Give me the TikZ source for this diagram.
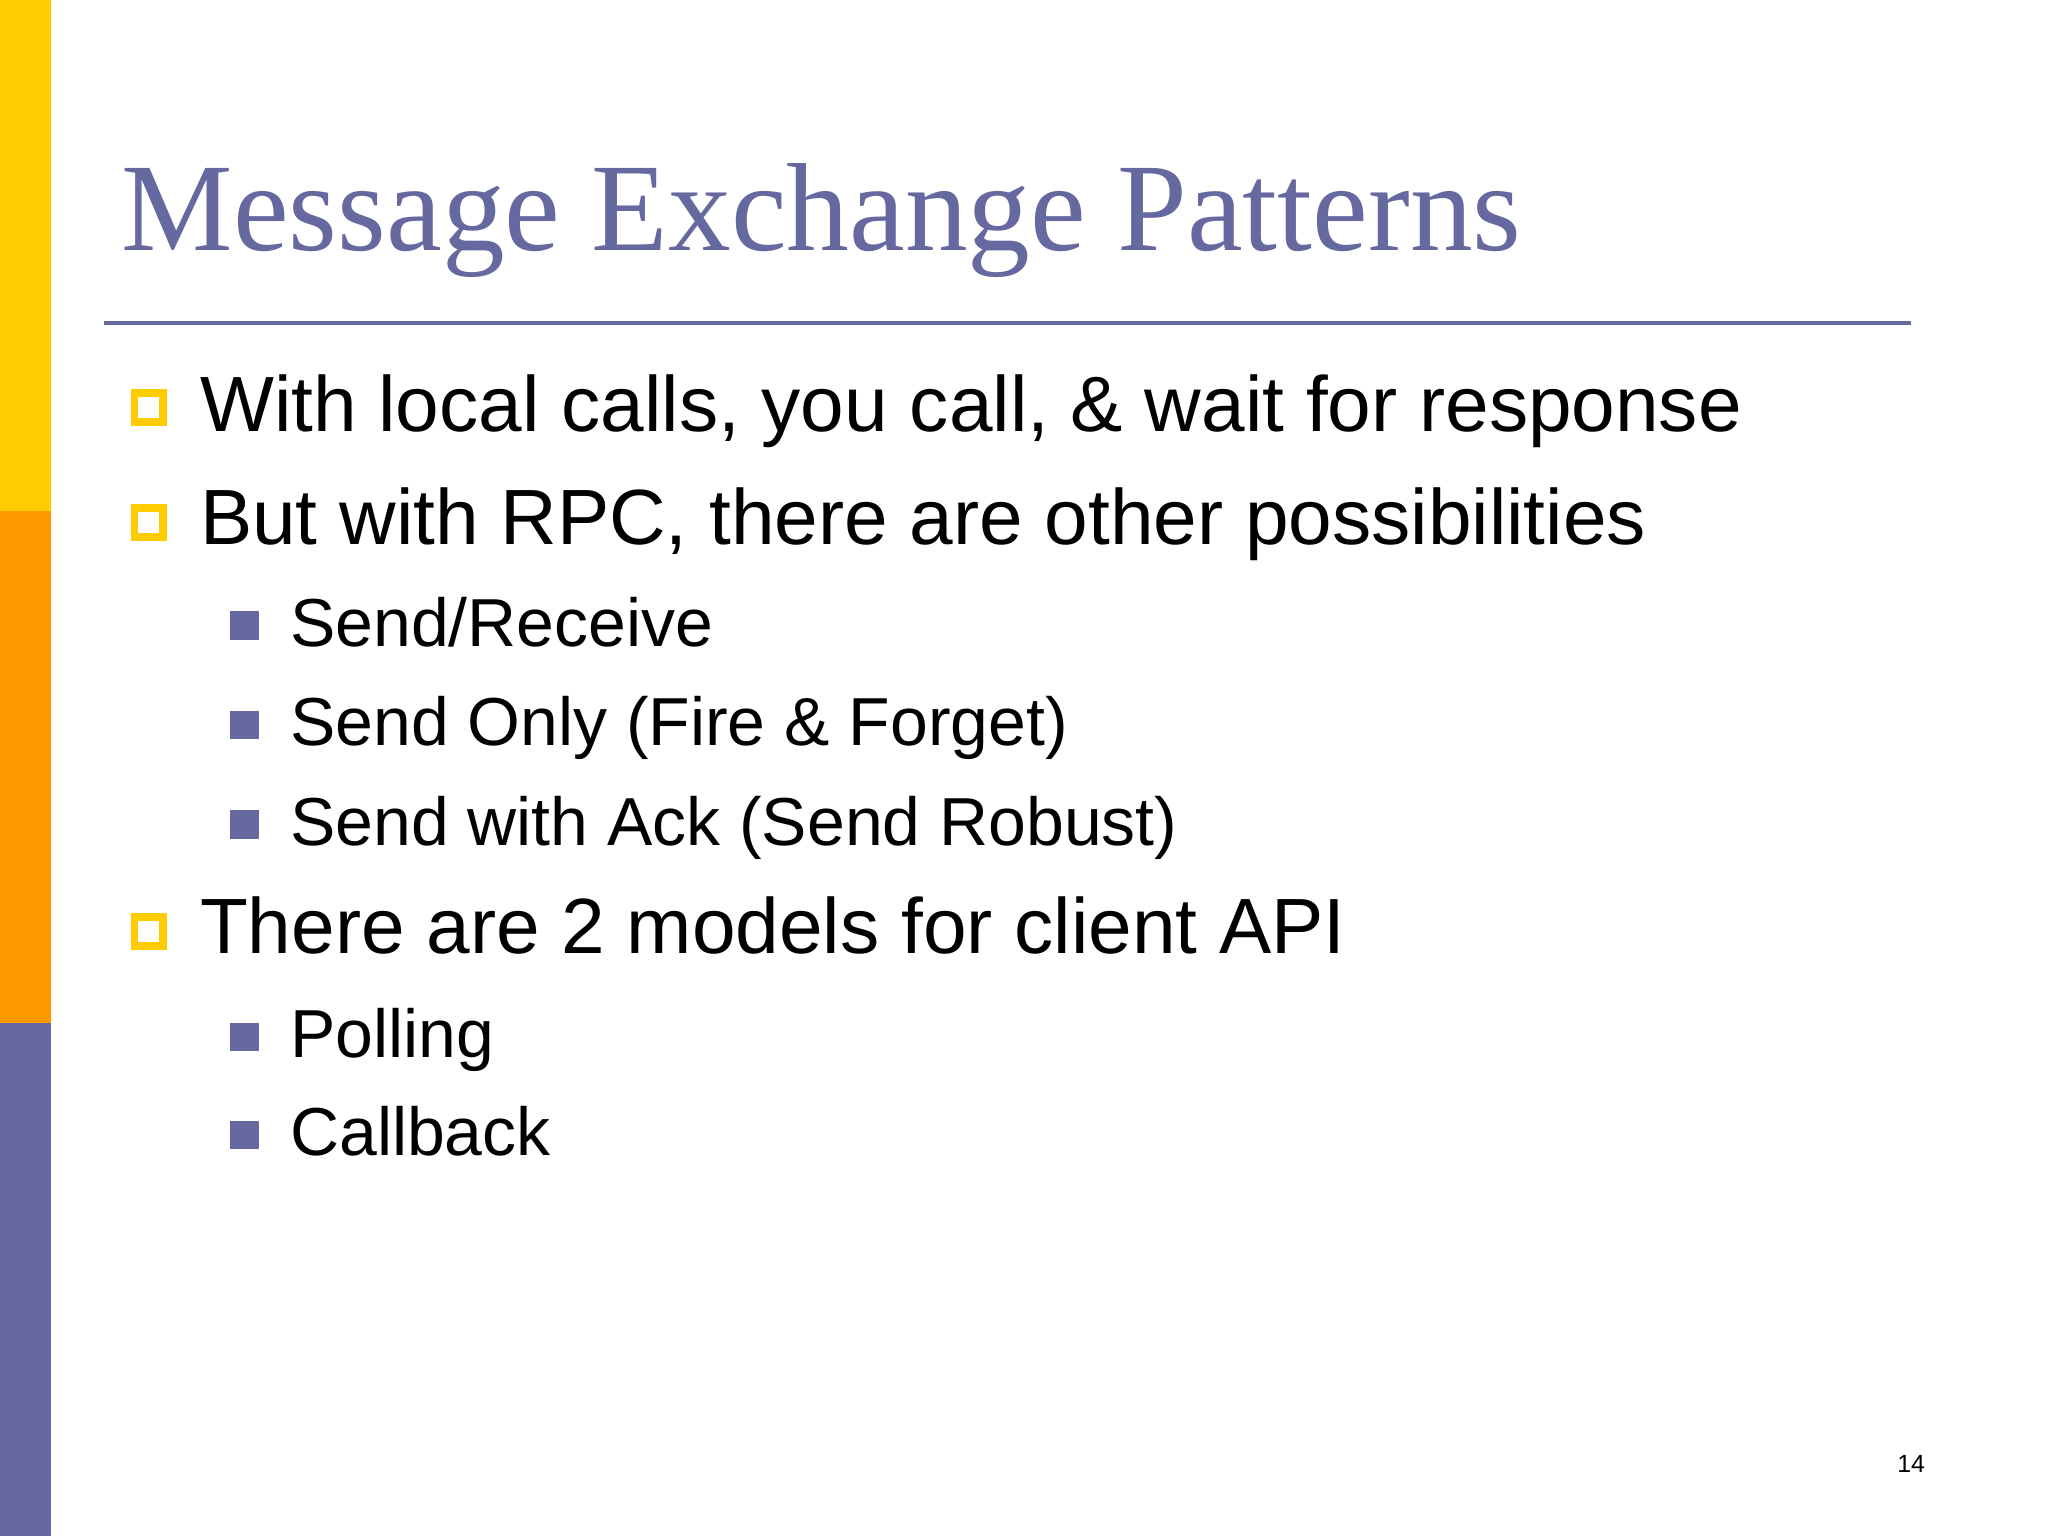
\documentclass[tikz,border=0pt]{standalone}
\usepackage{fontspec}
\setmainfont{Liberation Sans}
\newfontfamily\titlefont{Liberation Serif}
\definecolor{pur}{HTML}{6669A0}
\definecolor{yel}{HTML}{FFCC00}
\definecolor{ora}{HTML}{FF9900}
\begin{document}
\begin{tikzpicture}[x=1pt,y=-1pt,
 lvlone/.style={anchor=base west,inner sep=0pt,font=\fontsize{60}{70}\selectfont},
 lvltwo/.style={anchor=base west,inner sep=0pt,font=\fontsize{52}{62}\selectfont},
 hbox/.style={draw=yel,line width=6pt,minimum size=22pt,inner sep=0pt},
 fbox/.style={fill=pur,minimum size=22pt,inner sep=0pt}]
\useasboundingbox (0,0) rectangle (1568,1176);
\fill[white] (0,0) rectangle (1568,1176);
\fill[yel] (0,0) rectangle (39,391);
\fill[ora] (0,391) rectangle (39,783);
\fill[pur] (0,783) rectangle (39,1176);
\node[anchor=base west,inner sep=0pt,text=pur,font=\titlefont\fontsize{96}{110}\selectfont] (title) at (93,192) {Message Exchange Patterns};
\draw[pur,line width=3pt] (80,247) coordinate (la) -- (1463,247) coordinate (lb);
\node[hbox] (b1) at (114,312) {};
\node[lvlone] (t1) at (153,330) {With local calls, you call, \& wait for response};
\node[hbox] (b2) at (114,400) {};
\node[lvlone] (t2) at (153,417) {But with RPC, there are other possibilities};
\node[fbox] (s1) at (187,479) {};
\node[lvltwo] (u1) at (222,495) {Send/Receive};
\node[fbox] (s2) at (187,555) {};
\node[lvltwo] (u2) at (222,571) {Send Only (Fire \& Forget)};
\node[fbox] (s3) at (187,631) {};
\node[lvltwo] (u3) at (222,647) {Send with Ack (Send Robust)};
\node[hbox] (b3) at (114,713) {};
\node[lvlone] (t3) at (153,730) {There are 2 models for client API};
\node[fbox] (s4) at (187,794) {};
\node[lvltwo] (u4) at (222,810) {Polling};
\node[fbox] (s5) at (187,869) {};
\node[lvltwo] (u5) at (222,885) {Callback};
\node[anchor=base east,inner sep=0pt,font=\fontsize{19}{22}\selectfont] (pg) at (1474,1127) {14};
\end{tikzpicture}
\end{document}
